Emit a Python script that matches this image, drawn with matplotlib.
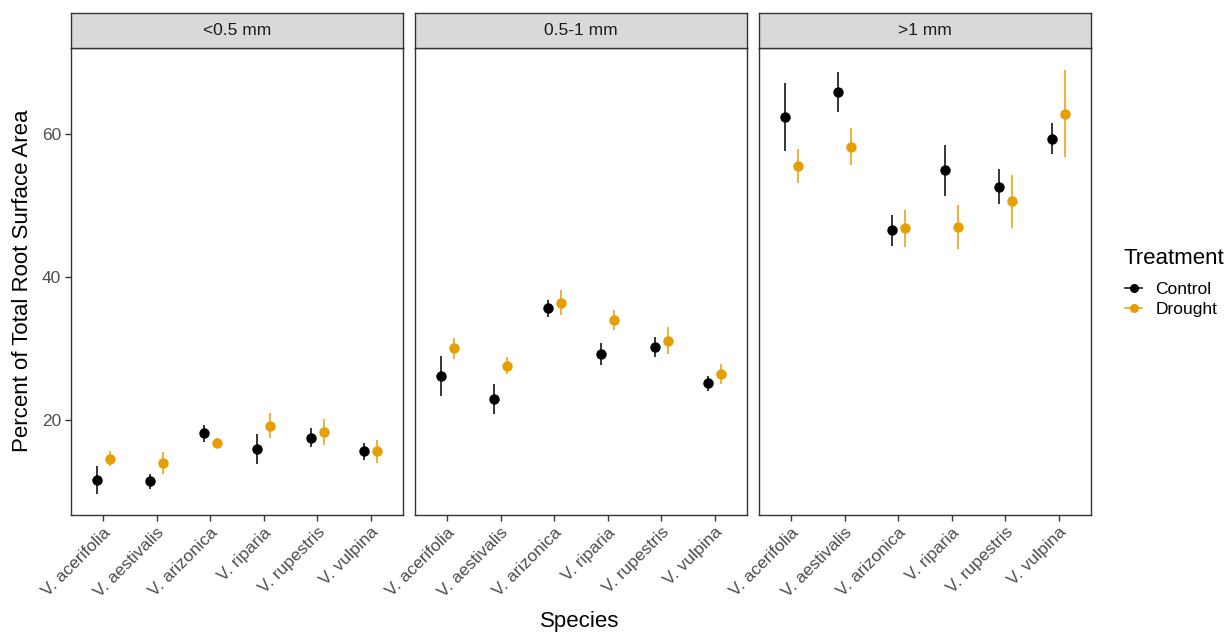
import matplotlib
matplotlib.use("Agg")
from matplotlib import pyplot as plt
from matplotlib.lines import Line2D
import numpy as np

plt.rcParams['font.family'] = ['Liberation Sans', 'DejaVu Sans']

########
# Data #
########

species = ['V. acerifolia', 'V. aestivalis', 'V. arizonica',
           'V. riparia', 'V. rupestris', 'V. vulpina']
size_classes = ['<0.5 mm', '0.5-1 mm', '>1 mm']

# mean and half error bar, per size class
ctrl_small = [11.6, 11.4, 18.1, 15.9, 17.5, 15.6]
ctrl_small_err = [1.95, 1.0, 1.2, 2.1, 1.3, 1.15]
drgt_small = [14.6, 14.0, 16.8, 19.2, 18.3, 15.6]
drgt_small_err = [1.1, 1.55, 0.6, 1.7, 1.8, 1.65]

ctrl_mid = [26.1, 22.9, 35.6, 29.2, 30.2, 25.1]
ctrl_mid_err = [2.8, 2.1, 1.2, 1.5, 1.35, 1.1]
drgt_mid = [30.0, 27.6, 36.4, 33.9, 31.1, 26.4]
drgt_mid_err = [1.45, 1.2, 1.8, 1.4, 1.9, 1.35]

ctrl_large = [62.3, 65.8, 46.5, 54.9, 52.6, 59.3]
ctrl_large_err = [4.75, 2.8, 2.15, 3.55, 2.45, 2.15]
drgt_large = [55.5, 58.2, 46.8, 47.0, 50.6, 62.8]
drgt_large_err = [2.35, 2.6, 2.6, 3.1, 3.7, 6.1]

panels = [
    (ctrl_small, ctrl_small_err, drgt_small, drgt_small_err),
    (ctrl_mid, ctrl_mid_err, drgt_mid, drgt_mid_err),
    (ctrl_large, ctrl_large_err, drgt_large, drgt_large_err),
]

#################
# Figure layout #
#################

W, H = 1228, 632
fig = plt.figure(figsize=(W / 100, H / 100), dpi=100)

grey20 = '#333333'
grey30 = '#4D4D4D'
cols = {'Control': 'black', 'Drought': '#E69F00'}
dodge = 0.12

panel_lefts = [71, 415, 759]
panel_w = 332
panel_top, panel_bot = 48, 515
strip_top = 13

x = np.arange(1, len(species) + 1)

for i, (left, name, vals) in enumerate(zip(panel_lefts, size_classes, panels)):
    ax = fig.add_axes([left / W, 1 - panel_bot / H, panel_w / W,
                       (panel_bot - panel_top) / H])
    cm, ce, dm, de = [np.array(v) for v in vals]
    for off, m, e, c in [(-dodge, cm, ce, cols['Control']),
                         (dodge, dm, de, cols['Drought'])]:
        ax.vlines(x + off, m - e, m + e, color=c, lw=1.1)
        ax.plot(x + off, m, 'o', color=c, ms=7.5, mec='none')

    ax.set_xlim(0.4, 6.6)
    ax.set_ylim(6.7, 72.0)
    ax.set_xticks(x)
    ax.set_xticklabels(species, rotation=45, ha='right', va='top',
                       rotation_mode='anchor', fontsize=12.5, color=grey30)
    ax.set_yticks([20, 40, 60])
    ax.tick_params(length=4, width=1, color=grey20, pad=3)
    if i == 0:
        ax.set_yticklabels(['20', '40', '60'], fontsize=12.5, color=grey30)
    else:
        ax.tick_params(axis='y', left=False, labelleft=False)
    for s in ax.spines.values():
        s.set_color(grey20)
        s.set_linewidth(1)

    # facet strip
    sax = fig.add_axes([left / W, 1 - panel_top / H, panel_w / W,
                        (panel_top - strip_top) / H])
    sax.set_facecolor('#D9D9D9')
    sax.set_xticks([])
    sax.set_yticks([])
    for s in sax.spines.values():
        s.set_color(grey20)
        s.set_linewidth(1)
    sax.text(0.5, 0.5, name, ha='center', va='center', fontsize=12.5,
             color='#1A1A1A', transform=sax.transAxes)

##########
# Labels #
##########

fig.text(23 / W, 1 - 281 / H, 'Percent of Total Root Surface Area',
         rotation=90, ha='center', va='center', fontsize=16)
fig.text(580 / W, 1 - 622 / H, 'Species', ha='center', va='center',
         fontsize=16)

# legend
fig.text(1124 / W, 1 - 259 / H, 'Treatment', ha='left', va='center',
         fontsize=16)
handles = [Line2D([0], [0], color=cols[k], marker='o', ms=6.5, lw=1.1,
                  mec='none') for k in ['Control', 'Drought']]
leg = fig.legend(handles, ['Control', 'Drought'],
                 loc='upper left', bbox_to_anchor=(1125 / W, 1 - 282 / H),
                 frameon=False, fontsize=12.5, borderaxespad=0, borderpad=0,
                 handlelength=1.0, handletextpad=0.75, labelspacing=0.28)

fig.savefig('out.png', dpi=100)
